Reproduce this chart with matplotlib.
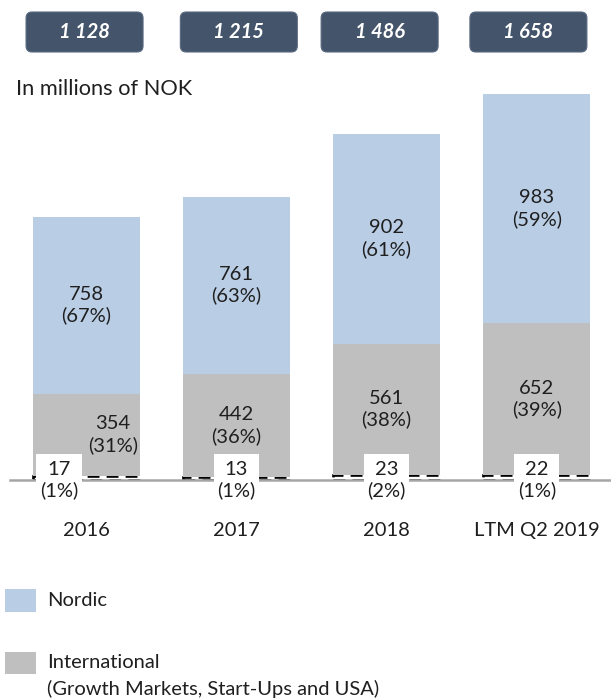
import matplotlib.pyplot as plt
from matplotlib.patches import FancyBboxPatch, Rectangle
from matplotlib.transforms import IdentityTransform

plt.rcParams['font.family'] = ['Lato', 'DejaVu Sans']

categories = ["2016", "2017", "2018", "LTM Q2 2019"]
other = [17, 13, 23, 22]
international = [354, 442, 561, 652]
nordic = [758, 761, 902, 983]
other_pct = ["1%", "1%", "2%", "1%"]
international_pct = ["31%", "36%", "38%", "39%"]
nordic_pct = ["67%", "63%", "61%", "59%"]
totals = ["1 128", "1 215", "1 486", "1 658"]

NORDIC = "#B9CDE5"
INTL = "#BFBFBF"
BOX = "#44546A"
TXT = "#1F1F1F"
FS = 14.5

fig = plt.figure(figsize=(6.11, 7), dpi=100)
ax = fig.add_axes([10 / 611, 220 / 700, 601 / 611, 420 / 700])

x = range(len(categories))
w = 0.712
ax.bar(x, other, w, color="white", edgecolor="black", linestyle=(0, (4.5, 2.7)),
       linewidth=1.9, zorder=2)
ax.bar(x, international, w, bottom=other, color=INTL, zorder=2)
bottoms = [o + i for o, i in zip(other, international)]
ax.bar(x, nordic, w, bottom=bottoms, color=NORDIC, zorder=2)

ax.set_xlim(-0.506, 3.493)
ax.set_ylim(0, 1802)
for s in ["top", "right", "left"]:
    ax.spines[s].set_visible(False)
ax.spines["bottom"].set_color("#A6A6A6")
ax.spines["bottom"].set_linewidth(1.8)
ax.spines["bottom"].set_zorder(2.5)
ax.set_yticks([])
ax.set_xticks(list(x))
ax.set_xticklabels(categories, fontsize=FS, color=TXT)
ax.tick_params(axis="x", length=0, pad=30)

for i in x:
    # nordic labels
    ax.text(i, bottoms[i] + nordic[i] / 2, f"{nordic[i]}\n({nordic_pct[i]})",
            ha="center", va="center", fontsize=FS, color=TXT, linespacing=1.25, zorder=4)
    # international labels (first bar shifted right to make room)
    dx = 0.18 if i == 0 else 0
    ax.text(i + dx, other[i] + international[i] / 2, f"{international[i]}\n({international_pct[i]})",
            ha="center", va="center", fontsize=FS, color=TXT, linespacing=1.25, zorder=4)
    # small segment label with white backing
    sx = i - 0.18 if i == 0 else i
    ax.add_patch(Rectangle((sx - 0.15, -12), 0.30, 125, facecolor="white",
                           edgecolor="none", zorder=3, clip_on=False))
    ax.text(sx, 0, f"{other[i]}\n({other_pct[i]})", ha="center", va="center",
            fontsize=FS, color=TXT, linespacing=1.25, zorder=4, clip_on=False)

# total boxes on top (slightly off the bar centres, as in the slide)
box_shift = [-1.5, 2.5, -7, -8.5]
for i, t in enumerate(totals):
    cx = ax.transData.transform((i, 0))[0] + box_shift[i]
    bw, bh = 117, 40
    y0 = 700 - 52
    box = FancyBboxPatch((cx - bw / 2 + 6, y0 + 6), bw - 12, bh - 12,
                         boxstyle="round,pad=6", facecolor=BOX, edgecolor="#5A6A80",
                         linewidth=0.8, transform=IdentityTransform())
    fig.add_artist(box)
    fig.text(cx / 611, (y0 + bh / 2) / 700, t, ha="center", va="center", fontsize=FS,
             color="white", fontweight="bold", fontstyle="italic")

fig.text(16 / 611, 611 / 700, "In millions of NOK", ha="left", va="center",
         fontsize=15.7, color=TXT)

# legend
fig.add_artist(Rectangle((5 / 611, 88 / 700), 31 / 611, 23 / 700, facecolor=NORDIC,
                         transform=fig.transFigure))
fig.text(47 / 611, 99 / 700, "Nordic", ha="left", va="center", fontsize=FS, color=TXT)
fig.add_artist(Rectangle((5 / 611, 26 / 700), 31 / 611, 22 / 700, facecolor=INTL,
                         transform=fig.transFigure))
fig.text(47 / 611, 37 / 700, "International", ha="left", va="center", fontsize=FS, color=TXT)
fig.text(47 / 611, 11 / 700, "(Growth Markets, Start-Ups and USA)", ha="left", va="center",
         fontsize=FS, color=TXT)

fig.savefig("out.png", dpi=100)
